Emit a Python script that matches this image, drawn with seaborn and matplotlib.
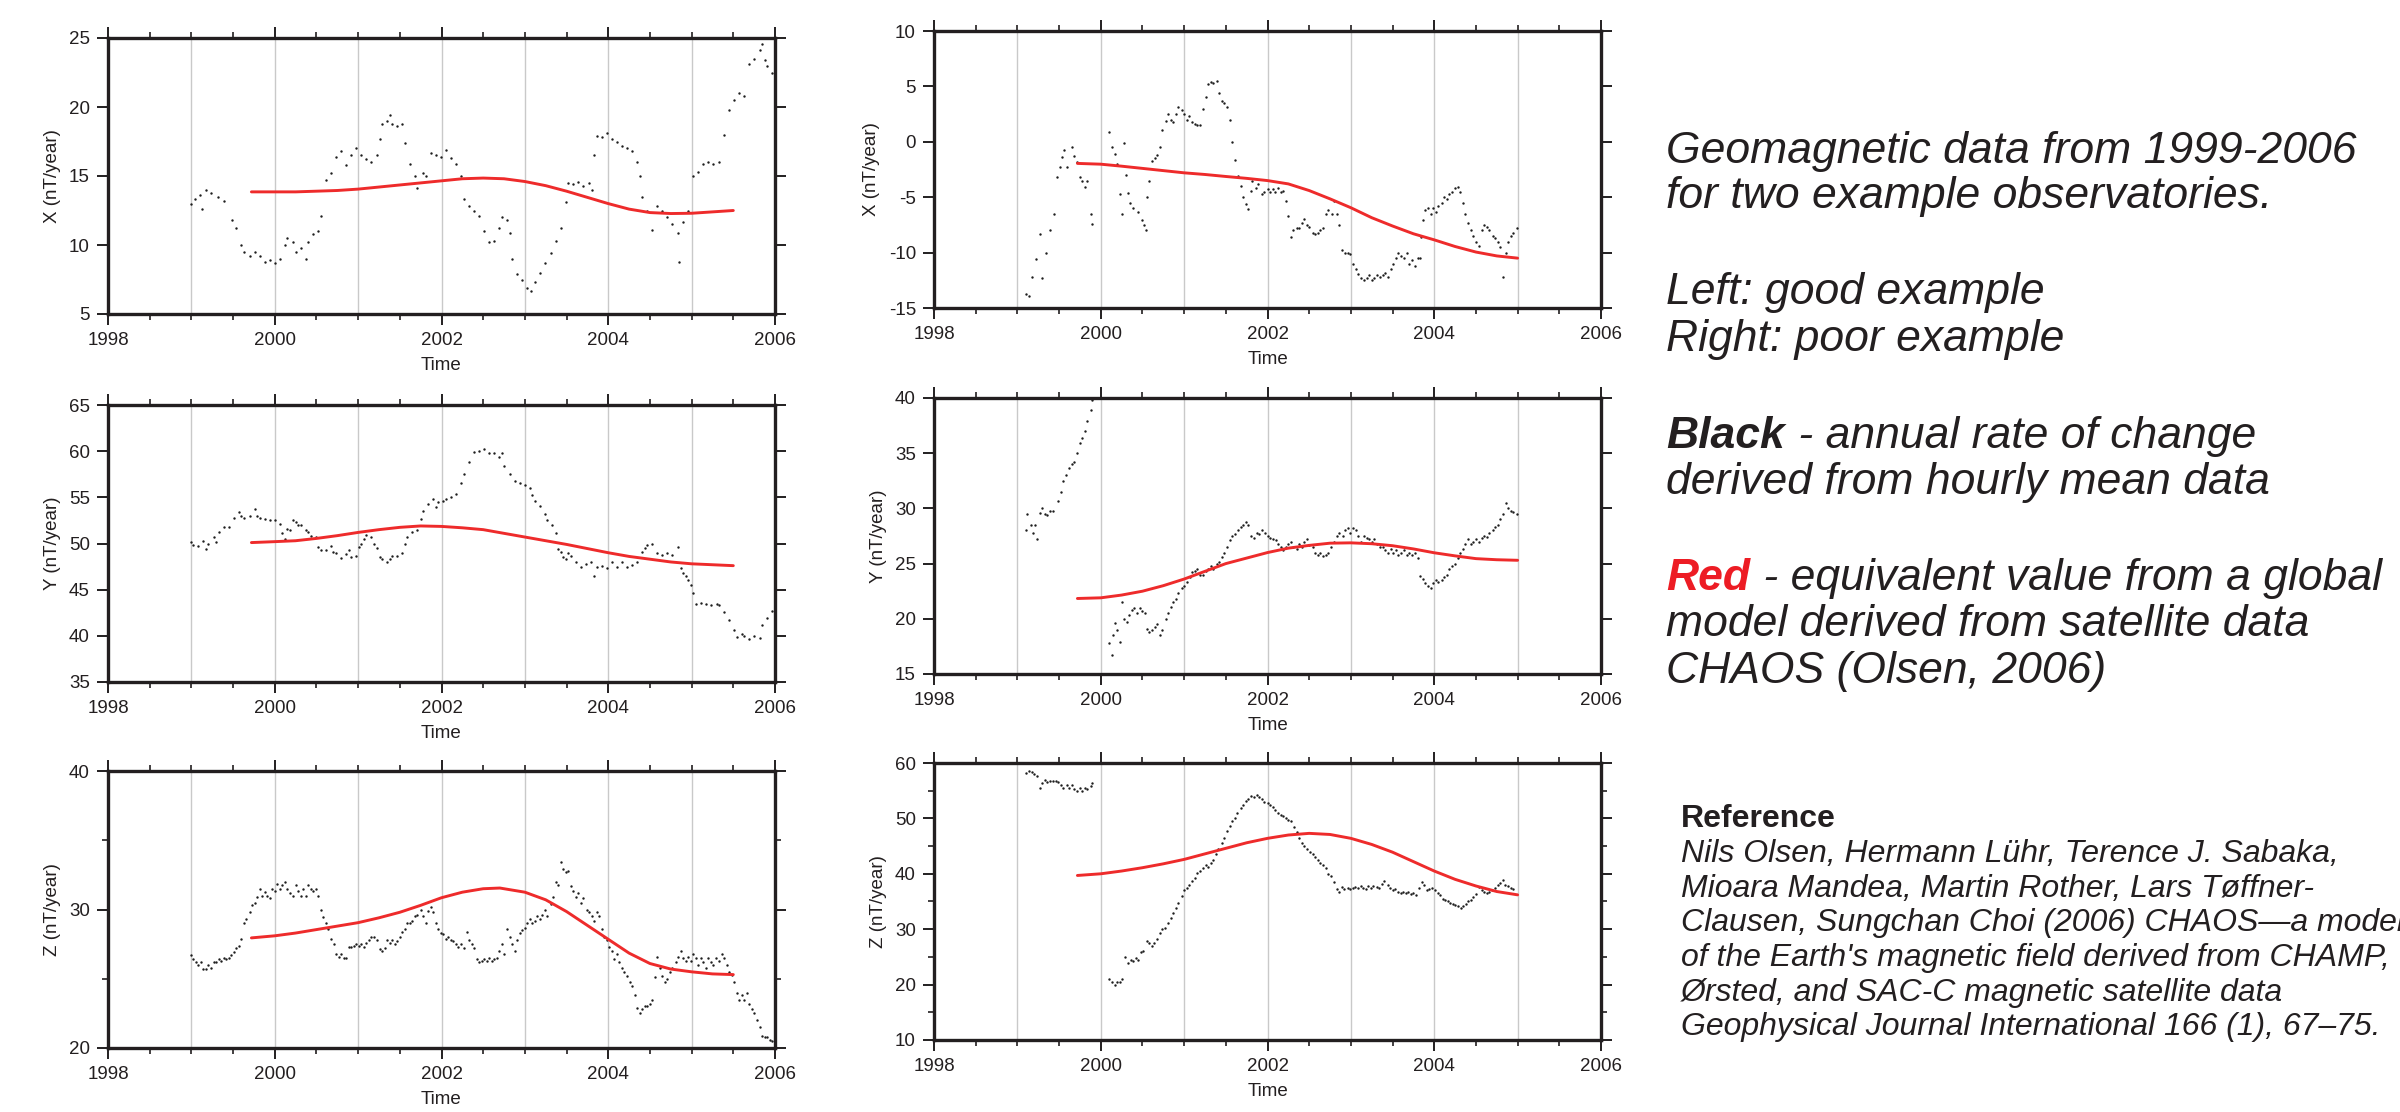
import matplotlib
matplotlib.use('Agg')
import matplotlib.pyplot as plt
from matplotlib.ticker import MultipleLocator
import seaborn as sns
import numpy as np

# ---- values (decimal year, nT/year) ----
# black = annual rate of change from hourly means, red = CHAOS model

good_x_black = [
    (1999.00, 13.0), (1999.04, 13.3), (1999.10, 13.6), (1999.13, 12.6), (1999.17, 14.0), (1999.24, 13.8),
    (1999.32, 13.5), (1999.39, 13.2), (1999.49, 11.8), (1999.54, 11.2), (1999.59, 10.0), (1999.63, 9.5),
    (1999.70, 9.2), (1999.76, 9.5), (1999.82, 9.2), (1999.88, 8.8), (1999.94, 8.9), (2000.00, 8.7),
    (2000.06, 9.0), (2000.12, 10.0), (2000.15, 10.5), (2000.22, 10.2), (2000.25, 9.5), (2000.31, 9.8),
    (2000.37, 9.0), (2000.40, 10.2), (2000.46, 10.8), (2000.52, 11.0), (2000.55, 12.1), (2000.61, 14.7),
    (2000.67, 15.2), (2000.74, 16.4), (2000.80, 16.8), (2000.86, 15.8), (2000.92, 16.5), (2000.98, 17.0),
    (2001.04, 16.5), (2001.10, 16.2), (2001.16, 16.0), (2001.23, 16.5), (2001.26, 17.7), (2001.29, 18.8),
    (2001.35, 19.0), (2001.38, 19.4), (2001.41, 18.8), (2001.47, 18.6), (2001.53, 18.8), (2001.56, 17.4),
    (2001.62, 15.9), (2001.68, 15.0), (2001.71, 14.1), (2001.78, 15.2), (2001.81, 15.0), (2001.87, 16.7),
    (2001.93, 16.5), (2001.99, 16.4), (2002.05, 16.9), (2002.11, 16.3), (2002.17, 15.9), (2002.23, 15.0),
    (2002.27, 13.3), (2002.33, 12.8), (2002.39, 12.5), (2002.45, 12.1), (2002.51, 11.0), (2002.57, 10.2),
    (2002.63, 10.3), (2002.69, 11.2), (2002.72, 12.0), (2002.79, 11.8), (2002.82, 10.9), (2002.85, 9.0),
    (2002.91, 7.9), (2002.97, 7.5), (2003.03, 6.9), (2003.07, 6.7), (2003.12, 7.3), (2003.18, 8.0),
    (2003.24, 8.7), (2003.31, 9.4), (2003.37, 10.3), (2003.43, 11.2), (2003.49, 13.1), (2003.52, 14.5),
    (2003.58, 14.4), (2003.64, 14.6), (2003.70, 14.3), (2003.77, 14.5), (2003.80, 14.0), (2003.83, 16.5),
    (2003.86, 17.9), (2003.92, 17.8), (2003.98, 18.1), (2004.04, 17.7), (2004.10, 17.5), (2004.16, 17.2),
    (2004.22, 17.0), (2004.29, 16.8), (2004.35, 16.0), (2004.38, 15.0), (2004.41, 13.5), (2004.47, 12.5),
    (2004.53, 11.1), (2004.59, 12.8), (2004.65, 12.5), (2004.71, 12.0), (2004.77, 11.5), (2004.84, 10.9),
    (2004.85, 8.8), (2004.90, 11.7), (2004.96, 12.5), (2005.02, 15.0), (2005.08, 15.3), (2005.14, 15.9),
    (2005.20, 16.0), (2005.26, 15.9), (2005.33, 16.0), (2005.39, 18.0), (2005.45, 19.8), (2005.51, 20.5),
    (2005.57, 21.0), (2005.63, 20.8), (2005.69, 23.1), (2005.75, 23.5), (2005.82, 24.1), (2005.85, 24.6),
    (2005.88, 23.4), (2005.91, 23.0), (2005.97, 22.5), (2006.00, 21.7),
]
good_x_red = [
    (1999.72, 13.85), (2000.0, 13.85), (2000.25, 13.85), (2000.5, 13.9), (2000.75, 13.95), (2001.0, 14.05),
    (2001.25, 14.2), (2001.5, 14.35), (2001.75, 14.5), (2002.0, 14.65), (2002.25, 14.8), (2002.5, 14.85),
    (2002.75, 14.8), (2003.0, 14.6), (2003.25, 14.3), (2003.5, 13.9), (2003.75, 13.45), (2004.0, 13.0),
    (2004.25, 12.6), (2004.5, 12.35), (2004.75, 12.28), (2005.0, 12.3), (2005.25, 12.4), (2005.5, 12.5),
]

poor_x_black = [
    (1999.10, -13.7), (1999.14, -13.9), (1999.17, -12.2), (1999.22, -10.6), (1999.27, -8.3), (1999.29, -12.3),
    (1999.34, -10.0), (1999.39, -8.0), (1999.44, -6.5), (1999.48, -3.2), (1999.51, -2.3), (1999.54, -1.4),
    (1999.56, -0.7), (1999.60, -2.3), (1999.65, -0.5), (1999.68, -1.3), (1999.72, -1.8), (1999.75, -3.2),
    (1999.78, -3.5), (1999.81, -4.1), (1999.84, -3.5), (1999.88, -6.5), (1999.90, -7.4),
    (2000.10, 0.9), (2000.13, -0.5), (2000.17, -1.1), (2000.20, -2.0), (2000.23, -4.7), (2000.26, -6.5),
    (2000.28, -0.1), (2000.30, -3.0), (2000.33, -4.6), (2000.35, -5.5), (2000.39, -6.0), (2000.45, -6.3),
    (2000.49, -7.1), (2000.52, -7.5), (2000.54, -8.0), (2000.55, -5.0), (2000.58, -3.5), (2000.62, -1.7),
    (2000.65, -1.5), (2000.68, -1.2), (2000.71, -0.5), (2000.73, 1.1), (2000.78, 1.9), (2000.81, 2.5),
    (2000.84, 2.0), (2000.87, 1.8), (2000.90, 2.5), (2000.93, 3.1), (2000.97, 2.9), (2001.00, 2.5),
    (2001.03, 2.0), (2001.06, 2.3), (2001.10, 1.8), (2001.13, 1.6), (2001.16, 1.5), (2001.19, 1.5),
    (2001.23, 3.0), (2001.26, 4.0), (2001.29, 5.2), (2001.32, 5.4), (2001.35, 5.3), (2001.39, 5.5),
    (2001.42, 4.4), (2001.45, 3.7), (2001.48, 3.5), (2001.52, 3.1), (2001.55, 2.0), (2001.58, 0.0),
    (2001.61, -1.6), (2001.65, -3.1), (2001.68, -4.0), (2001.71, -5.0), (2001.74, -5.6), (2001.77, -6.1),
    (2001.80, -4.4), (2001.82, -3.5), (2001.86, -4.2), (2001.89, -3.8), (2001.93, -4.7), (2001.96, -4.5),
    (2002.00, -4.3), (2002.03, -4.5), (2002.06, -4.3), (2002.09, -4.5), (2002.13, -4.2), (2002.16, -4.5),
    (2002.19, -4.4), (2002.22, -5.3), (2002.25, -6.7), (2002.28, -8.6), (2002.31, -8.0), (2002.35, -7.8),
    (2002.38, -7.8), (2002.41, -7.3), (2002.44, -7.0), (2002.47, -7.5), (2002.50, -7.7), (2002.54, -8.2),
    (2002.57, -8.3), (2002.60, -8.2), (2002.63, -8.0), (2002.67, -7.8), (2002.70, -6.5), (2002.73, -6.2),
    (2002.77, -6.5), (2002.80, -5.3), (2002.83, -6.5), (2002.86, -7.5), (2002.89, -9.8), (2002.93, -10.0),
    (2002.96, -10.0), (2002.99, -10.1), (2003.03, -11.0), (2003.06, -11.5), (2003.09, -11.9), (2003.12, -12.3),
    (2003.16, -12.5), (2003.19, -12.3), (2003.22, -12.0), (2003.25, -12.5), (2003.28, -12.3), (2003.31, -12.0),
    (2003.35, -12.2), (2003.38, -12.0), (2003.41, -11.8), (2003.44, -12.2), (2003.48, -11.5), (2003.51, -11.0),
    (2003.54, -10.5), (2003.57, -10.0), (2003.60, -10.3), (2003.64, -10.5), (2003.67, -10.0), (2003.70, -11.0),
    (2003.73, -10.7), (2003.77, -11.2), (2003.80, -10.5), (2003.83, -10.5), (2003.84, -8.6), (2003.86, -7.1),
    (2003.89, -6.2), (2003.93, -6.0), (2003.96, -6.5), (2003.99, -6.0), (2004.02, -6.3), (2004.05, -5.8),
    (2004.09, -5.5), (2004.12, -5.0), (2004.15, -5.2), (2004.18, -4.7), (2004.21, -4.5), (2004.25, -4.2),
    (2004.28, -4.1), (2004.31, -4.5), (2004.34, -5.5), (2004.37, -6.5), (2004.41, -7.3), (2004.44, -8.0),
    (2004.47, -8.5), (2004.50, -9.0), (2004.54, -9.4), (2004.57, -8.0), (2004.60, -7.5), (2004.63, -7.7),
    (2004.66, -8.0), (2004.70, -8.5), (2004.73, -8.7), (2004.76, -9.0), (2004.79, -9.5), (2004.83, -12.2),
    (2004.86, -10.0), (2004.89, -9.0), (2004.92, -8.5), (2004.95, -8.2), (2004.99, -7.8),
]
poor_x_red = [
    (1999.72, -1.95), (2000.0, -2.02), (2000.25, -2.2), (2000.5, -2.4), (2000.75, -2.6), (2001.0, -2.8),
    (2001.25, -2.95), (2001.5, -3.13), (2001.75, -3.3), (2002.0, -3.5), (2002.25, -3.8), (2002.5, -4.4),
    (2002.75, -5.15), (2003.0, -5.95), (2003.25, -6.85), (2003.5, -7.6), (2003.75, -8.3), (2004.0, -8.85),
    (2004.25, -9.45), (2004.5, -9.95), (2004.75, -10.3), (2005.0, -10.5),
]

good_y_black = [
    (1999.00, 50.2), (1999.02, 49.8), (1999.08, 49.7), (1999.14, 50.3), (1999.17, 49.4), (1999.20, 50.0),
    (1999.27, 50.7), (1999.30, 50.2), (1999.33, 51.2), (1999.39, 51.8), (1999.45, 51.8), (1999.51, 52.8),
    (1999.57, 53.4), (1999.60, 53.0), (1999.63, 52.8), (1999.70, 53.0), (1999.76, 53.7), (1999.79, 53.0),
    (1999.82, 52.8), (1999.88, 52.6), (1999.94, 52.5), (2000.00, 52.5), (2000.06, 52.1), (2000.09, 51.1),
    (2000.12, 50.5), (2000.15, 51.6), (2000.18, 51.5), (2000.22, 52.5), (2000.25, 52.3), (2000.28, 52.0),
    (2000.31, 52.0), (2000.37, 51.5), (2000.40, 51.2), (2000.43, 50.8), (2000.49, 50.7), (2000.52, 49.6),
    (2000.55, 49.3), (2000.61, 49.3), (2000.67, 49.7), (2000.70, 49.1), (2000.74, 49.0), (2000.80, 48.4),
    (2000.86, 48.9), (2000.89, 49.3), (2000.92, 48.5), (2000.98, 48.6), (2001.01, 49.6), (2001.04, 50.0),
    (2001.07, 50.5), (2001.10, 50.9), (2001.16, 50.7), (2001.19, 50.0), (2001.23, 49.5), (2001.26, 48.5),
    (2001.29, 48.3), (2001.35, 48.0), (2001.38, 48.3), (2001.41, 48.7), (2001.47, 48.6), (2001.53, 49.0),
    (2001.56, 50.0), (2001.59, 50.7), (2001.65, 51.2), (2001.71, 51.5), (2001.75, 52.7), (2001.78, 53.5),
    (2001.84, 54.3), (2001.90, 54.8), (2001.93, 54.0), (2001.96, 54.5), (2002.02, 54.6), (2002.05, 54.8),
    (2002.11, 55.0), (2002.17, 55.4), (2002.23, 56.6), (2002.27, 57.5), (2002.33, 58.8), (2002.39, 59.9),
    (2002.45, 60.0), (2002.51, 60.2), (2002.57, 59.8), (2002.63, 59.8), (2002.69, 59.4), (2002.72, 59.8),
    (2002.75, 58.4), (2002.82, 57.5), (2002.88, 56.8), (2002.94, 56.5), (2003.00, 56.3), (2003.06, 56.0),
    (2003.09, 55.2), (2003.12, 54.6), (2003.18, 54.1), (2003.24, 53.2), (2003.27, 52.5), (2003.33, 52.0),
    (2003.37, 51.1), (2003.40, 49.4), (2003.43, 49.1), (2003.46, 48.5), (2003.49, 48.3), (2003.52, 49.0),
    (2003.55, 48.6), (2003.61, 48.0), (2003.67, 47.5), (2003.73, 47.8), (2003.79, 48.0), (2003.83, 46.5),
    (2003.86, 47.5), (2003.92, 47.6), (2003.98, 47.3), (2004.04, 48.0), (2004.10, 47.5), (2004.16, 48.0),
    (2004.22, 47.5), (2004.29, 47.7), (2004.35, 48.0), (2004.41, 49.1), (2004.44, 49.5), (2004.47, 49.8),
    (2004.53, 50.0), (2004.59, 49.0), (2004.65, 48.8), (2004.71, 49.0), (2004.77, 48.8), (2004.84, 49.6),
    (2004.87, 47.3), (2004.90, 46.8), (2004.93, 46.5), (2004.96, 46.0), (2004.99, 45.5), (2005.02, 44.6),
    (2005.05, 43.5), (2005.11, 43.6), (2005.17, 43.5), (2005.23, 43.3), (2005.30, 43.5), (2005.33, 43.3),
    (2005.39, 42.6), (2005.45, 41.7), (2005.51, 40.6), (2005.54, 39.9), (2005.60, 40.2), (2005.63, 40.0),
    (2005.69, 39.7), (2005.75, 40.0), (2005.82, 39.8), (2005.85, 41.2), (2005.91, 41.9), (2005.97, 42.7),
    (2006.00, 42.8),
]
good_y_red = [
    (1999.72, 50.1), (2000.0, 50.2), (2000.25, 50.3), (2000.5, 50.55), (2000.75, 50.85), (2001.0, 51.2),
    (2001.25, 51.5), (2001.5, 51.75), (2001.75, 51.9), (2002.0, 51.85), (2002.25, 51.7), (2002.5, 51.5),
    (2002.75, 51.1), (2003.0, 50.7), (2003.25, 50.3), (2003.5, 49.9), (2003.75, 49.45), (2004.0, 49.0),
    (2004.25, 48.6), (2004.5, 48.3), (2004.75, 48.0), (2005.0, 47.8), (2005.25, 47.7), (2005.5, 47.6),
]

poor_y_black = [
    (1999.10, 28.0), (1999.12, 29.5), (1999.16, 28.5), (1999.19, 27.8), (1999.21, 28.5), (1999.23, 27.2),
    (1999.27, 29.6), (1999.30, 30.0), (1999.33, 29.5), (1999.36, 29.4), (1999.39, 29.8), (1999.43, 29.8),
    (1999.49, 30.7), (1999.52, 31.5), (1999.55, 32.5), (1999.58, 33.0), (1999.62, 33.7), (1999.65, 34.0),
    (1999.68, 34.2), (1999.71, 35.0), (1999.75, 35.9), (1999.78, 36.4), (1999.81, 37.0), (1999.84, 37.9),
    (1999.88, 38.9), (1999.90, 39.8),
    (2000.10, 17.8), (2000.13, 16.7), (2000.15, 18.5), (2000.17, 19.6), (2000.20, 19.0), (2000.23, 17.9),
    (2000.26, 21.5), (2000.28, 20.0), (2000.31, 19.7), (2000.34, 20.3), (2000.37, 20.8), (2000.40, 21.0),
    (2000.44, 20.5), (2000.47, 21.0), (2000.50, 20.7), (2000.53, 20.5), (2000.55, 19.1), (2000.58, 18.8),
    (2000.62, 19.0), (2000.65, 19.3), (2000.68, 19.5), (2000.71, 18.5), (2000.74, 19.0), (2000.78, 20.0),
    (2000.81, 20.5), (2000.84, 21.1), (2000.87, 21.5), (2000.90, 21.8), (2000.93, 22.3), (2000.97, 22.8),
    (2001.00, 23.0), (2001.03, 23.3), (2001.07, 23.8), (2001.10, 24.2), (2001.13, 24.3), (2001.16, 24.5),
    (2001.19, 24.0), (2001.23, 24.0), (2001.26, 24.3), (2001.29, 24.5), (2001.32, 24.8), (2001.35, 24.5),
    (2001.39, 25.0), (2001.42, 25.1), (2001.45, 25.6), (2001.48, 26.0), (2001.52, 26.5), (2001.55, 27.1),
    (2001.58, 27.5), (2001.61, 27.7), (2001.65, 28.0), (2001.68, 28.3), (2001.71, 28.5), (2001.74, 28.8),
    (2001.77, 28.5), (2001.80, 27.5), (2001.84, 27.3), (2001.87, 27.8), (2001.90, 27.7), (2001.93, 28.0),
    (2001.97, 27.8), (2002.00, 27.5), (2002.03, 27.3), (2002.06, 27.2), (2002.10, 27.1), (2002.13, 26.8),
    (2002.16, 26.5), (2002.19, 26.2), (2002.22, 26.5), (2002.25, 26.8), (2002.28, 27.0), (2002.31, 26.5),
    (2002.35, 26.3), (2002.38, 26.8), (2002.41, 26.5), (2002.44, 27.0), (2002.47, 27.2), (2002.50, 26.7),
    (2002.54, 26.5), (2002.57, 26.0), (2002.60, 25.8), (2002.63, 26.0), (2002.67, 25.7), (2002.70, 25.8),
    (2002.73, 26.0), (2002.76, 26.5), (2002.80, 27.0), (2002.83, 27.5), (2002.86, 27.8), (2002.90, 27.5),
    (2002.93, 28.0), (2002.96, 28.2), (2002.99, 27.8), (2003.03, 28.2), (2003.06, 28.0), (2003.09, 27.5),
    (2003.12, 27.0), (2003.16, 27.5), (2003.19, 27.3), (2003.22, 27.2), (2003.25, 27.0), (2003.28, 27.2),
    (2003.31, 26.8), (2003.35, 26.5), (2003.38, 26.5), (2003.41, 26.2), (2003.44, 26.0), (2003.48, 26.3),
    (2003.51, 26.0), (2003.54, 26.2), (2003.57, 25.8), (2003.60, 26.0), (2003.64, 26.2), (2003.67, 25.8),
    (2003.70, 26.0), (2003.73, 25.8), (2003.77, 26.0), (2003.80, 25.5), (2003.83, 23.9), (2003.86, 23.6),
    (2003.89, 23.2), (2003.93, 23.0), (2003.96, 22.8), (2003.99, 23.2), (2004.02, 23.5), (2004.05, 23.3),
    (2004.09, 23.5), (2004.12, 23.8), (2004.15, 24.0), (2004.18, 24.5), (2004.21, 24.8), (2004.25, 25.0),
    (2004.28, 25.5), (2004.31, 26.0), (2004.34, 26.3), (2004.37, 26.8), (2004.41, 27.2), (2004.44, 26.8),
    (2004.47, 27.0), (2004.50, 27.2), (2004.54, 27.0), (2004.57, 27.3), (2004.60, 27.5), (2004.63, 27.4),
    (2004.66, 27.8), (2004.70, 28.0), (2004.73, 28.3), (2004.76, 28.5), (2004.79, 29.0), (2004.83, 29.5),
    (2004.86, 30.5), (2004.89, 30.0), (2004.92, 29.8), (2004.95, 29.7), (2004.99, 29.5),
]
poor_y_red = [
    (1999.72, 21.84), (2000.0, 21.9), (2000.25, 22.15), (2000.5, 22.5), (2000.75, 23.0), (2001.0, 23.6),
    (2001.25, 24.3), (2001.5, 25.0), (2001.75, 25.5), (2002.0, 26.0), (2002.25, 26.4), (2002.5, 26.65),
    (2002.75, 26.85), (2003.0, 26.88), (2003.25, 26.8), (2003.5, 26.62), (2003.75, 26.33), (2004.0, 25.98),
    (2004.25, 25.7), (2004.5, 25.45), (2004.75, 25.35), (2005.0, 25.3),
]

good_z_black = [
    (1999.00, 26.7), (1999.02, 26.4), (1999.05, 26.2), (1999.08, 26.0), (1999.11, 26.2), (1999.14, 25.7),
    (1999.17, 25.7), (1999.20, 26.0), (1999.24, 25.8), (1999.27, 26.2), (1999.30, 26.2), (1999.33, 26.4),
    (1999.36, 26.3), (1999.39, 26.5), (1999.42, 26.4), (1999.45, 26.5), (1999.48, 26.7), (1999.51, 26.9),
    (1999.54, 27.2), (1999.57, 27.4), (1999.60, 27.9), (1999.63, 29.0), (1999.66, 29.3), (1999.70, 29.8),
    (1999.73, 30.3), (1999.76, 30.5), (1999.79, 30.9), (1999.82, 31.5), (1999.85, 31.0), (1999.88, 31.25),
    (1999.91, 31.0), (1999.94, 30.8), (1999.97, 31.5), (2000.00, 31.3), (2000.03, 31.85), (2000.06, 31.5),
    (2000.09, 31.8), (2000.12, 32.0), (2000.15, 31.5), (2000.18, 31.2), (2000.22, 31.0), (2000.25, 31.8),
    (2000.28, 31.3), (2000.31, 31.0), (2000.34, 31.5), (2000.37, 31.0), (2000.40, 31.8), (2000.43, 31.5),
    (2000.46, 31.3), (2000.49, 31.5), (2000.52, 31.0), (2000.55, 30.0), (2000.58, 29.45), (2000.61, 29.0),
    (2000.64, 28.6), (2000.67, 27.9), (2000.71, 27.5), (2000.74, 26.8), (2000.77, 26.6), (2000.80, 26.8),
    (2000.83, 26.5), (2000.86, 26.5), (2000.89, 27.3), (2000.92, 27.3), (2000.95, 27.4), (2000.98, 27.5),
    (2001.01, 27.4), (2001.04, 27.5), (2001.07, 27.3), (2001.10, 27.6), (2001.13, 27.8), (2001.16, 28.0),
    (2001.19, 28.0), (2001.23, 27.8), (2001.26, 27.15), (2001.29, 27.0), (2001.32, 27.2), (2001.35, 27.8),
    (2001.38, 27.6), (2001.41, 27.8), (2001.44, 27.5), (2001.47, 27.7), (2001.50, 28.0), (2001.53, 28.4),
    (2001.56, 28.6), (2001.59, 29.0), (2001.62, 29.0), (2001.65, 29.2), (2001.68, 29.5), (2001.71, 29.6),
    (2001.75, 30.0), (2001.78, 29.5), (2001.81, 29.0), (2001.84, 29.9), (2001.87, 30.2), (2001.90, 29.8),
    (2001.93, 29.0), (2001.96, 28.6), (2001.99, 28.3), (2002.02, 28.2), (2002.05, 27.9), (2002.08, 28.0),
    (2002.11, 27.8), (2002.14, 27.7), (2002.17, 27.5), (2002.20, 27.3), (2002.23, 27.5), (2002.27, 27.2),
    (2002.30, 28.35), (2002.33, 27.8), (2002.36, 27.5), (2002.39, 27.2), (2002.42, 26.4), (2002.45, 26.2),
    (2002.48, 26.3), (2002.51, 26.4), (2002.54, 26.3), (2002.57, 26.5), (2002.60, 26.3), (2002.63, 26.4),
    (2002.66, 26.5), (2002.69, 27.0), (2002.72, 27.5), (2002.75, 26.8), (2002.79, 28.6), (2002.82, 28.0),
    (2002.85, 27.5), (2002.88, 27.0), (2002.91, 27.8), (2002.94, 28.3), (2002.97, 28.5), (2003.00, 28.7),
    (2003.03, 29.0), (2003.06, 29.3), (2003.09, 29.0), (2003.12, 29.2), (2003.15, 29.5), (2003.18, 29.3),
    (2003.21, 29.6), (2003.24, 30.0), (2003.27, 29.5), (2003.31, 30.4), (2003.34, 30.9), (2003.37, 32.0),
    (2003.40, 31.8), (2003.43, 33.4), (2003.46, 32.9), (2003.49, 32.7), (2003.52, 32.8), (2003.55, 31.7),
    (2003.58, 31.3), (2003.61, 30.9), (2003.64, 31.2), (2003.67, 30.5), (2003.70, 30.8), (2003.74, 30.0),
    (2003.77, 29.8), (2003.80, 29.5), (2003.83, 29.2), (2003.86, 29.8), (2003.89, 29.5), (2003.92, 28.6),
    (2003.95, 28.0), (2003.98, 27.8), (2004.01, 27.3), (2004.04, 27.0), (2004.07, 26.4), (2004.10, 26.8),
    (2004.13, 26.2), (2004.16, 25.8), (2004.19, 25.5), (2004.22, 25.2), (2004.26, 24.8), (2004.29, 24.5),
    (2004.32, 23.8), (2004.35, 22.9), (2004.38, 22.5), (2004.41, 22.8), (2004.44, 23.0), (2004.47, 23.0),
    (2004.50, 23.2), (2004.53, 23.5), (2004.56, 25.1), (2004.59, 26.55), (2004.62, 25.8), (2004.65, 25.2),
    (2004.68, 24.8), (2004.71, 25.0), (2004.74, 25.5), (2004.77, 25.8), (2004.81, 26.2), (2004.84, 26.6),
    (2004.87, 27.0), (2004.90, 26.5), (2004.93, 26.3), (2004.96, 26.6), (2004.99, 26.3), (2005.02, 26.8),
    (2005.05, 26.5), (2005.08, 26.0), (2005.11, 26.5), (2005.14, 26.2), (2005.17, 25.8), (2005.20, 26.5),
    (2005.23, 26.2), (2005.26, 26.0), (2005.29, 26.5), (2005.33, 26.3), (2005.36, 26.8), (2005.39, 26.5),
    (2005.42, 26.0), (2005.45, 25.5), (2005.48, 25.3), (2005.51, 24.8), (2005.54, 24.0), (2005.57, 23.5),
    (2005.60, 23.8), (2005.63, 23.5), (2005.66, 24.0), (2005.69, 23.2), (2005.72, 22.8), (2005.75, 22.5),
    (2005.79, 22.0), (2005.82, 21.5), (2005.85, 20.9), (2005.88, 20.8), (2005.91, 20.8), (2005.94, 20.6),
    (2005.97, 20.5), (2006.00, 20.3),
]
good_z_red = [
    (1999.72, 27.95), (2000.0, 28.1), (2000.25, 28.3), (2000.5, 28.55), (2000.75, 28.8), (2001.0, 29.05),
    (2001.25, 29.4), (2001.5, 29.8), (2001.75, 30.3), (2002.0, 30.85), (2002.25, 31.25), (2002.5, 31.5),
    (2002.7, 31.55), (2003.0, 31.25), (2003.25, 30.7), (2003.5, 29.85), (2003.75, 28.85), (2004.0, 27.85),
    (2004.25, 26.85), (2004.5, 26.1), (2004.75, 25.7), (2005.0, 25.5), (2005.25, 25.35), (2005.5, 25.3),
]

poor_z_black = [
    (1999.10, 58.2), (1999.14, 58.5), (1999.17, 58.3), (1999.20, 58.0), (1999.23, 57.6), (1999.27, 55.5),
    (1999.30, 56.4), (1999.33, 56.9), (1999.36, 56.5), (1999.39, 56.8), (1999.43, 56.7), (1999.46, 56.8),
    (1999.49, 56.5), (1999.52, 56.1), (1999.55, 55.5), (1999.59, 56.0), (1999.62, 55.5), (1999.65, 56.0),
    (1999.68, 55.3), (1999.72, 54.9), (1999.75, 55.5), (1999.78, 55.0), (1999.81, 55.5), (1999.84, 55.3),
    (1999.88, 55.8), (1999.90, 56.4),
    (2000.10, 21.0), (2000.13, 20.5), (2000.17, 19.9), (2000.20, 20.5), (2000.23, 20.5), (2000.26, 21.0),
    (2000.29, 24.9), (2000.33, 23.9), (2000.36, 24.5), (2000.39, 24.2), (2000.42, 24.8), (2000.45, 24.5),
    (2000.48, 25.8), (2000.51, 26.0), (2000.55, 27.9), (2000.58, 27.5), (2000.61, 27.0), (2000.64, 27.5),
    (2000.67, 28.2), (2000.71, 29.4), (2000.74, 30.0), (2000.77, 30.3), (2000.81, 31.2), (2000.84, 32.1),
    (2000.87, 33.0), (2000.90, 33.9), (2000.93, 34.8), (2000.97, 36.0), (2001.00, 37.0), (2001.03, 37.5),
    (2001.06, 38.0), (2001.10, 38.7), (2001.13, 39.3), (2001.16, 40.2), (2001.19, 40.5), (2001.23, 41.1),
    (2001.26, 41.5), (2001.29, 41.3), (2001.32, 42.0), (2001.35, 42.5), (2001.38, 43.5), (2001.41, 44.4),
    (2001.45, 45.6), (2001.48, 46.5), (2001.51, 47.7), (2001.55, 48.6), (2001.58, 49.5), (2001.61, 50.0),
    (2001.64, 51.0), (2001.68, 51.9), (2001.71, 52.5), (2001.74, 53.1), (2001.77, 53.5), (2001.80, 54.0),
    (2001.84, 53.8), (2001.87, 54.2), (2001.90, 53.8), (2001.93, 53.5), (2001.96, 53.0), (2002.00, 52.8),
    (2002.03, 52.5), (2002.06, 52.0), (2002.09, 51.5), (2002.12, 51.0), (2002.16, 50.7), (2002.19, 50.5),
    (2002.22, 50.0), (2002.25, 49.7), (2002.28, 49.5), (2002.32, 48.5), (2002.35, 47.5), (2002.38, 46.5),
    (2002.41, 45.5), (2002.44, 45.0), (2002.47, 44.5), (2002.51, 44.0), (2002.54, 43.5), (2002.57, 43.0),
    (2002.60, 42.5), (2002.63, 42.0), (2002.67, 41.5), (2002.70, 41.0), (2002.73, 40.0), (2002.76, 39.6),
    (2002.80, 38.5), (2002.83, 37.2), (2002.86, 36.7), (2002.89, 37.6), (2002.92, 37.2), (2002.96, 37.5),
    (2002.99, 37.3), (2003.02, 37.5), (2003.05, 37.7), (2003.08, 37.5), (2003.12, 37.8), (2003.15, 37.5),
    (2003.18, 37.3), (2003.21, 37.8), (2003.24, 37.5), (2003.27, 37.8), (2003.31, 37.6), (2003.34, 37.5),
    (2003.37, 38.2), (2003.40, 38.7), (2003.44, 38.0), (2003.47, 37.5), (2003.50, 37.0), (2003.53, 37.3),
    (2003.56, 36.8), (2003.60, 36.5), (2003.63, 36.8), (2003.66, 36.5), (2003.69, 36.8), (2003.72, 36.3),
    (2003.75, 36.5), (2003.78, 36.2), (2003.82, 37.5), (2003.85, 38.5), (2003.88, 38.0), (2003.91, 37.0),
    (2003.94, 37.3), (2003.97, 37.5), (2004.01, 37.0), (2004.04, 36.5), (2004.07, 36.1), (2004.10, 35.5),
    (2004.13, 35.2), (2004.16, 35.0), (2004.19, 34.7), (2004.22, 34.5), (2004.25, 34.3), (2004.28, 34.1),
    (2004.32, 33.8), (2004.35, 34.2), (2004.38, 34.5), (2004.41, 35.0), (2004.44, 35.3), (2004.47, 35.8),
    (2004.50, 36.3), (2004.54, 37.6), (2004.57, 37.0), (2004.60, 36.8), (2004.63, 36.5), (2004.66, 36.8),
    (2004.69, 37.0), (2004.73, 37.5), (2004.76, 38.0), (2004.79, 38.3), (2004.82, 38.9), (2004.85, 38.0),
    (2004.88, 37.8), (2004.92, 37.5), (2004.95, 37.2),
]
poor_z_red = [
    (1999.72, 39.7), (2000.0, 40.0), (2000.25, 40.5), (2000.5, 41.1), (2000.75, 41.8), (2001.0, 42.6),
    (2001.25, 43.6), (2001.5, 44.6), (2001.75, 45.6), (2002.0, 46.4), (2002.25, 47.0), (2002.5, 47.3),
    (2002.75, 47.1), (2003.0, 46.4), (2003.25, 45.3), (2003.5, 43.9), (2003.75, 42.2), (2004.0, 40.5),
    (2004.25, 39.0), (2004.5, 37.8), (2004.75, 36.8), (2005.0, 36.2),
]

year_ticks = [1998, 2000, 2002, 2004, 2006]
grid_years = [1999, 2000, 2001, 2002, 2003, 2004, 2005]

# ---- style ----
sns.set_style('ticks')
plt.rcParams['font.family'] = ['Liberation Sans', 'DejaVu Sans']
plt.rcParams['axes.unicode_minus'] = False

W, H = 2400, 1112
fig = plt.figure(figsize=(W / 100, H / 100), dpi=100)
ink = '#231f20'
red = '#ee2b2b'

# (left px, top px, bottom px, black, red, ylim, major, minor, label)
panels = [
    (108, 38, 314, good_x_black, good_x_red, (5, 25), 5, None, 'X (nT/year)'),
    (108, 405, 682, good_y_black, good_y_red, (35, 65), 5, None, 'Y (nT/year)'),
    (108, 771, 1048, good_z_black, good_z_red, (20, 40), 10, 5, 'Z (nT/year)'),
    (934, 31, 308, poor_x_black, poor_x_red, (-15, 10), 5, None, 'X (nT/year)'),
    (934, 398, 674, poor_y_black, poor_y_red, (15, 40), 5, None, 'Y (nT/year)'),
    (934, 763, 1040, poor_z_black, poor_z_red, (10, 60), 10, 5, 'Z (nT/year)'),
]

for left, top, bottom, black, model, ylim, major, minor, label in panels:
    ax = fig.add_axes([left / W, 1 - bottom / H, 667 / W, (bottom - top) / H])
    for yr in grid_years:
        ax.axvline(yr, color='#c9c9c9', lw=1.0, zorder=0)
    b = np.array(black)
    m = np.array(model)
    sns.scatterplot(x=b[:, 0], y=b[:, 1], ax=ax, s=3, color='#1e1e1e',
                    linewidth=0, zorder=2, legend=False)
    sns.lineplot(x=m[:, 0], y=m[:, 1], ax=ax, color=red, lw=2.1,
                 estimator=None, sort=True, zorder=3, legend=False)
    ax.set_xlim(1998, 2006)
    ax.set_ylim(*ylim)
    ax.set_xticks(year_ticks)
    ax.xaxis.set_minor_locator(MultipleLocator(0.5))
    ax.yaxis.set_major_locator(MultipleLocator(major))
    if minor:
        ax.yaxis.set_minor_locator(MultipleLocator(minor))
    ax.tick_params(which='major', direction='out', length=8, width=1.4,
                   top=True, right=True, labelsize=13.5, colors=ink, pad=5)
    ax.tick_params(which='minor', direction='out', length=4, width=1.2,
                   top=True, right=True, colors=ink)
    ax.tick_params(axis='x', which='minor', bottom=True, top=True)
    for sp in ax.spines.values():
        sp.set_linewidth(2.4)
        sp.set_color(ink)
    ax.set_xlabel('Time', fontsize=13.5, color=ink, labelpad=6)
    ax.set_ylabel(label, fontsize=13.5, color=ink, labelpad=6)

# ---- text block on the right ----
def ftxt(x, y, s, **kw):
    kw.setdefault('color', ink)
    return fig.text(x / W, 1 - y / H, s, ha='left', va='baseline', style='italic', **kw)

main_x = 1666
main_size = 32
main_lines = [
    (163, 'Geomagnetic data from 1999-2006'),
    (208, 'for two example observatories.'),
    (304, 'Left: good example'),
    (351, 'Right: poor example'),
]
for y, s in main_lines:
    ftxt(main_x, y, s, fontsize=main_size)

tb = ftxt(main_x, 448, 'Black', fontsize=main_size, weight='bold')
ftxt(main_x, 494, 'derived from hourly mean data', fontsize=main_size)
tr = ftxt(main_x, 590, 'Red', fontsize=main_size, weight='bold', color='#ed1c24')
ftxt(main_x, 636, 'model derived from satellite data', fontsize=main_size)
ftxt(main_x, 683, 'CHAOS (Olsen, 2006)', fontsize=main_size)

fig.canvas.draw()
for t, y, s in [(tb, 448, ' - annual rate of change'), (tr, 590, ' - equivalent value from a global')]:
    x1 = t.get_window_extent().x1
    ftxt(x1 + 1, y, s, fontsize=main_size)

ref_x = 1681
ref_size = 23
fig.text(ref_x / W, 1 - 827 / H, 'Reference', ha='left', va='baseline',
         fontsize=ref_size, weight='bold', color=ink)
ref_lines = [
    'Nils Olsen, Hermann Lühr, Terence J. Sabaka,',
    'Mioara Mandea, Martin Rother, Lars Tøffner-',
    'Clausen, Sungchan Choi (2006) CHAOS\u2014a model',
    "of the Earth's magnetic field derived from CHAMP,",
    'Ørsted, and SAC-C magnetic satellite data',
    'Geophysical Journal International 166 (1), 67\u201375.',
]
for i, s in enumerate(ref_lines):
    ftxt(ref_x, 862 + i * 34.7, s, fontsize=ref_size)

fig.savefig('out.png', dpi=100)
